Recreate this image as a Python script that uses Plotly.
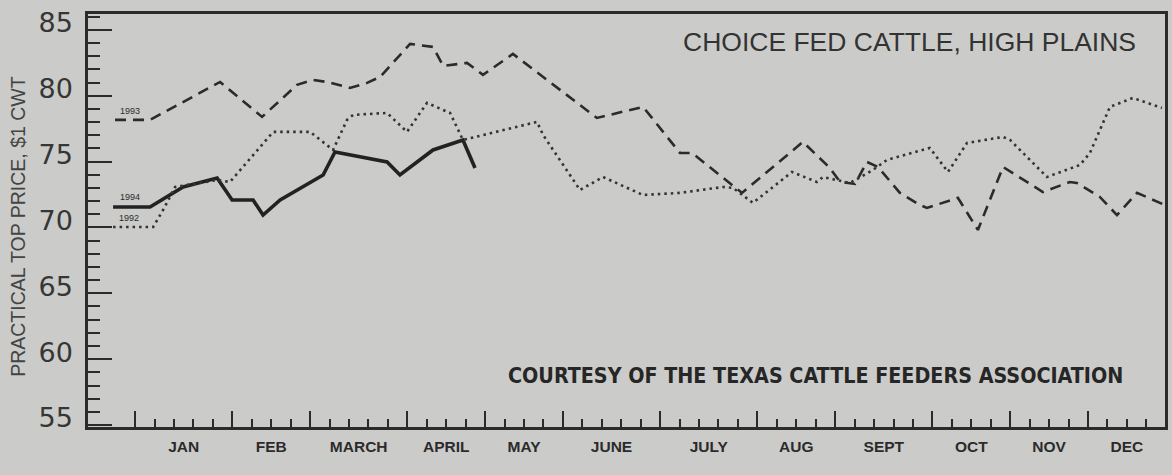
import plotly.graph_objects as go

# ---- data (x = week index from first January week, y = $/cwt) ----
wk_1994 = [-1.13, 0.77, 2.47, 4.22, 4.99, 6.07, 6.58, 7.46, 9.67, 10.28, 12.96, 13.62, 15.32, 16.86, 17.48]
px_1994 = [71.55, 71.55, 73.07, 73.75, 72.08, 72.08, 70.94, 72.08, 73.98, 75.73, 74.97, 73.98, 75.88, 76.64, 74.51]

wk_1993 = [-1.03, 0.77, 4.37, 6.53, 8.33, 9.15, 9.87, 11.05, 11.93, 12.60, 14.14, 15.32, 15.84, 17.07,
           17.89, 19.43, 23.75, 26.12, 26.58, 28.02, 28.64, 31.21, 34.34, 35.73, 36.25, 37.02, 37.63,
           38.20, 39.33, 40.36, 40.72, 42.31, 43.34, 44.63, 46.68, 48.07, 48.43, 49.61, 50.49, 51.52, 52.96]
px_1993 = [78.16, 78.16, 81.04, 78.39, 80.82, 81.20, 81.04, 80.59, 80.97, 81.42, 83.93, 83.70, 82.26, 82.49,
           81.58, 83.17, 78.31, 79.15, 78.31, 75.65, 75.65, 72.62, 76.49, 74.51, 73.45, 73.30, 74.97,
           74.59, 72.62, 71.70, 71.48, 72.24, 69.81, 74.59, 72.69, 73.45, 73.37, 72.31, 70.94, 72.62, 71.70]

wk_1992 = [-1.13, 0.93, 1.44, 2.06, 4.22, 4.88, 7.10, 9.00, 10.18, 10.90, 11.21, 12.96, 13.98, 15.01,
           16.20, 16.86, 20.67, 20.98, 22.88, 24.06, 26.12, 28.02, 30.23, 30.75, 31.77, 33.78, 35.06,
           35.37, 36.76, 37.94, 38.66, 40.87, 41.80, 42.78, 44.63, 44.99, 46.89, 48.59, 49.10, 50.13,
           51.31, 52.80]
px_1992 = [70.03, 70.03, 71.32, 73.07, 73.60, 73.45, 77.25, 77.25, 75.88, 78.16, 78.54, 78.69, 77.25, 79.45,
           78.69, 76.64, 78.01, 77.02, 72.84, 73.83, 72.46, 72.62, 73.07, 73.00, 71.86, 74.21, 73.45,
           73.83, 73.37, 74.36, 75.12, 76.03, 74.21, 76.41, 76.87, 76.64, 73.83, 74.74, 75.65, 79.15,
           79.83, 79.07]

months = ["JAN", "FEB", "MARCH", "APRIL", "MAY", "JUNE", "JULY", "AUG", "SEPT", "OCT", "NOV", "DEC"]
weeks_in_month = [5, 4, 5, 4, 4, 5, 5, 4, 5, 4, 4, 4]
y_ticks = [55, 60, 65, 70, 75, 80, 85]

title_text = "CHOICE FED CATTLE, HIGH PLAINS"
credit_text = "COURTESY OF THE TEXAS CATTLE FEEDERS ASSOCIATION"
y_title = "PRACTICAL TOP PRICE, $1 CWT"

# derived month boundaries / midpoints
bounds = [0]
for n in weeks_in_month:
    bounds.append(bounds[-1] + n)
mids = [(bounds[i] + bounds[i + 1]) / 2 for i in range(len(months))]
major_bounds = bounds[:-1]

BG = "#cbccc9"
INK = "#2b2b2b"
X_RANGE = [-2.42, 52.96]
Y_RANGE = [54.85, 86.2]

fig = go.Figure()
fig.add_trace(go.Scatter(x=wk_1993, y=px_1993, mode="lines", name="1993",
                         line=dict(color=INK, width=2.6, dash="11px,7px")))
fig.add_trace(go.Scatter(x=wk_1992, y=px_1992, mode="lines", name="1992", xaxis="x2",
                         line=dict(color="#333333", width=2.6, dash="2.5px,4px")))
fig.add_trace(go.Scatter(x=wk_1994, y=px_1994, mode="lines", name="1994",
                         line=dict(color="#222222", width=3.6)))

fig.update_layout(
    width=1172, height=475,
    margin=dict(l=88, r=7, t=14, b=48, autoexpand=False),
    paper_bgcolor=BG, plot_bgcolor=BG,
    showlegend=False,
    xaxis=dict(range=X_RANGE, showgrid=False, zeroline=False,
               showline=True, linecolor=INK, linewidth=2.5, mirror=True,
               tickmode="array", tickvals=major_bounds, ticks="inside", ticklen=16,
               tickwidth=2, tickcolor=INK, showticklabels=False,
               minor=dict(tickmode="array", tickvals=list(range(0, 53)), ticks="inside",
                          ticklen=8, tickwidth=2, tickcolor=INK, showgrid=False)),
    xaxis2=dict(range=X_RANGE, overlaying="x", anchor="y", side="bottom",
                showgrid=False, zeroline=False, showline=False,
                tickmode="array", tickvals=mids, ticktext=months, ticks="",
                ticklabelstandoff=8,
                tickfont=dict(family="Liberation Sans, Arial, sans-serif", size=15.5,
                              color=INK, weight="bold")),
    yaxis=dict(range=Y_RANGE, showgrid=False, zeroline=False,
               showline=True, linecolor=INK, linewidth=2.5, mirror=True,
               tickmode="array", tickvals=y_ticks, ticks="inside", ticklen=24,
               tickwidth=2, tickcolor=INK, ticklabelshift=-7, ticklabelstandoff=7,
               tickfont=dict(family="DejaVu Sans, sans-serif", size=27, color="#363636"),
               minor=dict(tickmode="linear", tick0=55, dtick=1, ticks="inside",
                          ticklen=12, tickwidth=2, tickcolor=INK, showgrid=False)),
)

annotations = [
    dict(text=title_text, xref="paper", yref="paper", x=0.975, y=0.932,
         xanchor="right", yanchor="middle", showarrow=False,
         font=dict(family="Liberation Sans, Arial, sans-serif", size=26.5, color="#333333")),
    dict(text=credit_text, xref="paper", yref="paper", x=0.963, y=0.1235,
         xanchor="right", yanchor="middle", showarrow=False,
         font=dict(family="Liberation Sans Narrow, DejaVu Sans Condensed, sans-serif", size=21.3,
                   color="#262626", weight="bold")),
    dict(text=y_title, xref="paper", yref="paper", x=-0.065, y=0.487,
         xanchor="center", yanchor="middle", textangle=-90, showarrow=False,
         font=dict(family="Liberation Sans, Arial, sans-serif", size=19.5, color="#444444")),
    dict(text="1993", x=-0.26, y=78.84, xref="x", yref="y", showarrow=False,
         font=dict(family="Liberation Sans, Arial, sans-serif", size=9, color=INK)),
    dict(text="1994", x=-0.26, y=72.31, xref="x", yref="y", showarrow=False,
         font=dict(family="Liberation Sans, Arial, sans-serif", size=9, color=INK)),
    dict(text="1992", x=-0.3, y=70.72, xref="x", yref="y", showarrow=False,
         font=dict(family="Liberation Sans, Arial, sans-serif", size=9, color=INK)),
]
fig.update_layout(annotations=annotations)

fig.write_html("out.html", config={"displayModeBar": False},
               post_script="document.body.style.margin='0';document.body.style.background='%s';" % BG)
